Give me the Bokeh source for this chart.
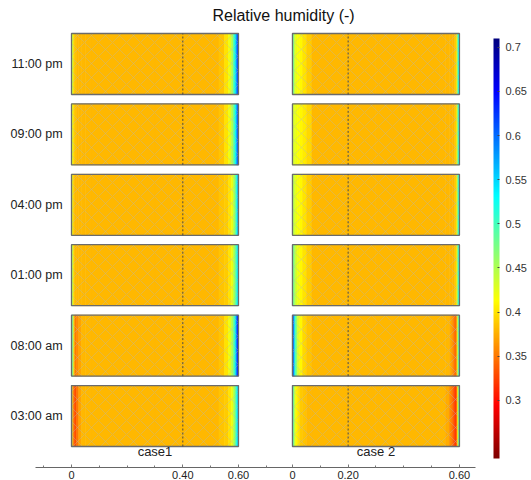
import numpy as np
from bokeh.plotting import figure
from bokeh.models import ColumnDataSource, LinearColorMapper, ColorBar, FixedTicker, NumeralTickFormatter
from bokeh.embed import file_html
from bokeh.resources import INLINE
from bokeh.core.properties import value

# ---------------- data ----------------
times = ["03:00 am", "08:00 am", "01:00 pm", "04:00 pm", "09:00 pm", "11:00 pm"]  # bottom -> top
cases = ["case1", "case 2"]
case_offset = [0.0, 0.794]          # horizontal placement of each case (axis units)
case_width = 0.6
interface = [0.40, 0.20]            # dotted line position in each case
case1_ticks = [0.0, 0.40, 0.60]
case1_tick_labels = ["0", "0.40", "0.60"]
case2_ticks = [0.0, 0.20, 0.60]
case2_tick_labels = ["0", "0.20", "0.60"]
cbar_ticks = [0.3, 0.35, 0.4, 0.45, 0.5, 0.55, 0.6, 0.65, 0.7]
rh_low, rh_high = 0.234, 0.71

# strip edges across the wall (local x, 0..0.6)
edges = [0, 0.004, 0.008, 0.012, 0.018, 0.026, 0.036, 0.05, 0.07, 0.3, 0.53,
         0.55, 0.564, 0.574, 0.582, 0.588, 0.592, 0.596, 0.6]

# relative humidity per strip (18 strips)
case1_0300am = [0.47, 0.37, 0.34, 0.33, 0.35, 0.37, 0.38, 0.38, 0.38, 0.38, 0.385, 0.39, 0.40, 0.42, 0.45, 0.48, 0.52, 0.55]
case1_0800am = [0.55, 0.45, 0.39, 0.35, 0.36, 0.37, 0.38, 0.38, 0.38, 0.38, 0.385, 0.40, 0.42, 0.45, 0.49, 0.54, 0.59, 0.64]
case1_0100pm = [0.50, 0.42, 0.39, 0.38, 0.38, 0.38, 0.38, 0.38, 0.38, 0.38, 0.385, 0.39, 0.40, 0.42, 0.45, 0.48, 0.51, 0.54]
case1_0400pm = [0.46, 0.40, 0.385, 0.38, 0.38, 0.38, 0.38, 0.38, 0.38, 0.38, 0.385, 0.39, 0.40, 0.42, 0.45, 0.48, 0.52, 0.56]
case1_0900pm = [0.45, 0.41, 0.39, 0.385, 0.38, 0.38, 0.38, 0.38, 0.38, 0.38, 0.385, 0.40, 0.42, 0.45, 0.49, 0.53, 0.57, 0.61]
case1_1100pm = [0.47, 0.42, 0.39, 0.385, 0.38, 0.38, 0.38, 0.38, 0.38, 0.38, 0.385, 0.40, 0.42, 0.45, 0.50, 0.54, 0.58, 0.62]

case2_0300am = [0.52, 0.47, 0.43, 0.41, 0.40, 0.39, 0.385, 0.38, 0.38, 0.38, 0.38, 0.375, 0.36, 0.34, 0.32, 0.33, 0.40, 0.48]
case2_0800am = [0.64, 0.58, 0.52, 0.47, 0.43, 0.41, 0.395, 0.385, 0.38, 0.38, 0.38, 0.38, 0.375, 0.36, 0.34, 0.36, 0.43, 0.50]
case2_0100pm = [0.50, 0.47, 0.45, 0.43, 0.42, 0.41, 0.40, 0.39, 0.38, 0.38, 0.38, 0.38, 0.38, 0.38, 0.385, 0.40, 0.46, 0.52]
case2_0400pm = [0.47, 0.44, 0.43, 0.42, 0.415, 0.41, 0.40, 0.39, 0.38, 0.38, 0.38, 0.38, 0.38, 0.38, 0.385, 0.40, 0.46, 0.52]
case2_0900pm = [0.44, 0.43, 0.425, 0.42, 0.415, 0.41, 0.405, 0.395, 0.38, 0.38, 0.38, 0.38, 0.38, 0.38, 0.385, 0.40, 0.46, 0.52]
case2_1100pm = [0.52, 0.46, 0.43, 0.42, 0.415, 0.41, 0.40, 0.39, 0.38, 0.38, 0.38, 0.38, 0.38, 0.38, 0.385, 0.40, 0.47, 0.53]

case1_rows = [case1_0300am, case1_0800am, case1_0100pm, case1_0400pm, case1_0900pm, case1_1100pm]
case2_rows = [case2_0300am, case2_0800am, case2_0100pm, case2_0400pm, case2_0900pm, case2_1100pm]

# ---------------- styling ----------------
FONT = "Liberation Sans"
panel_h = 0.866
axis_y = -0.731


def jet(t):
    r = np.clip(1.5 - abs(4 * t - 3), 0, 1)
    g = np.clip(1.5 - abs(4 * t - 2), 0, 1)
    b = np.clip(1.5 - abs(4 * t - 1), 0, 1)
    return "#%02x%02x%02x" % (int(r * 255), int(g * 255), int(b * 255))


palette = [jet(1 - i / 255) for i in range(256)]  # low = dark red, high = dark blue
mapper = LinearColorMapper(palette=palette, low=rh_low, high=rh_high)

p = figure(width=531, height=480, x_range=(-0.2551, 1.6529), y_range=(-0.916, 5.902),
           output_backend="svg", toolbar_location=None, y_axis_location=None,
           min_border_left=0, min_border_right=0, min_border_top=0, min_border_bottom=0)
p.outline_line_color = None
p.xgrid.visible = False
p.ygrid.visible = False
p.background_fill_color = "white"

# strips
L, R, B, T, V = [], [], [], [], []
for off, rows in zip(case_offset, [case1_rows, case2_rows]):
    for i, vals in enumerate(rows):
        for k, v in enumerate(vals):
            L.append(off + edges[k]); R.append(off + edges[k + 1])
            B.append(i - panel_h / 2); T.append(i + panel_h / 2); V.append(v)
src = ColumnDataSource(dict(left=L, right=R, bottom=B, top=T, val=V))
p.quad(left="left", right="right", bottom="bottom", top="top", source=src,
       fill_color={"field": "val", "transform": mapper},
       line_color={"field": "val", "transform": mapper}, line_width=0.6)

# mesh-like hatch + panel frames
PL, PR, PB, PT = [], [], [], []
for off in case_offset:
    for i in range(len(times)):
        PL.append(off); PR.append(off + case_width)
        PB.append(i - panel_h / 2); PT.append(i + panel_h / 2)
psrc = ColumnDataSource(dict(left=PL, right=PR, bottom=PB, top=PT))
p.quad(left="left", right="right", bottom="bottom", top="top", source=psrc,
       fill_alpha=0, hatch_pattern="x", hatch_color="#b4b4b4", hatch_alpha=0.5,
       hatch_scale=14, hatch_weight=0.7, line_color="#6b6b6b", line_width=1.3)

# dotted interface lines
X0, Y0, Y1 = [], [], []
for off, xi in zip(case_offset, interface):
    for i in range(len(times)):
        X0.append(off + xi); Y0.append(i - panel_h / 2); Y1.append(i + panel_h / 2)
p.segment(x0=X0, y0=Y0, x1=X0, y1=Y1, line_color="#4a4a4a", line_width=1, line_dash="2 2")

# row labels
p.text(x=[case_offset[0] - 0.032] * len(times), y=list(range(len(times))), text=times,
       text_align="right", text_baseline="middle", text_font=value(FONT),
       text_font_size="12.5px", text_color="#222222")

# case labels
p.text(x=[o + case_width / 2 for o in case_offset], y=[-0.504] * 2, text=cases,
       text_align="center", text_baseline="middle", text_font=value(FONT),
       text_font_size="13px", text_color="#222222")

# title
p.text(x=[(case_offset[0] + case_offset[1] + case_width) / 2 + 0.065], y=[5.689],
       text=["Relative humidity (-)"], text_align="center", text_baseline="middle",
       text_font=value(FONT), text_font_size="16px", text_color="#111111")

# x axis
major = [case_offset[0] + t for t in case1_ticks] + [case_offset[1] + t for t in case2_ticks]
labels = case1_tick_labels + case2_tick_labels
minor = [round(case_offset[0] + k * 0.1, 4) for k in range(-1, 8)] + \
        [round(case_offset[1] + k * 0.1, 4) for k in range(1, 7)]
minor = [m for m in minor if all(abs(m - M) > 1e-6 for M in major)]
ax = p.xaxis[0]
ax.fixed_location = axis_y
ax.ticker = FixedTicker(ticks=major, minor_ticks=minor)
ax.major_label_overrides = {m: l for m, l in zip(major, labels)}
ax.bounds = (-0.1294, 1.4517)
ax.axis_line_color = "#666666"
ax.major_tick_in = 3
ax.major_tick_out = 0
ax.minor_tick_in = 2
ax.minor_tick_out = 0
ax.major_tick_line_color = "#777777"
ax.minor_tick_line_color = "#777777"
ax.major_label_standoff = 4
ax.major_label_text_font = FONT
ax.major_label_text_font_size = "11px"
ax.major_label_text_color = "#222222"

# colour bar
cb = ColorBar(color_mapper=mapper, location=(493, 22), width=6, height=420,
              margin=0, padding=0, ticker=FixedTicker(ticks=cbar_ticks),
              formatter=NumeralTickFormatter(format="0.[00]"),
              major_label_text_font=FONT, major_label_text_font_size="11px",
              major_label_text_color="#333333", label_standoff=6,
              major_tick_line_color="#444444", major_tick_in=2, minor_tick_line_color=None,
              border_line_color=None, background_fill_alpha=0, bar_line_color=None)
p.add_layout(cb)

open("out.html", "w").write(file_html(p, INLINE))
